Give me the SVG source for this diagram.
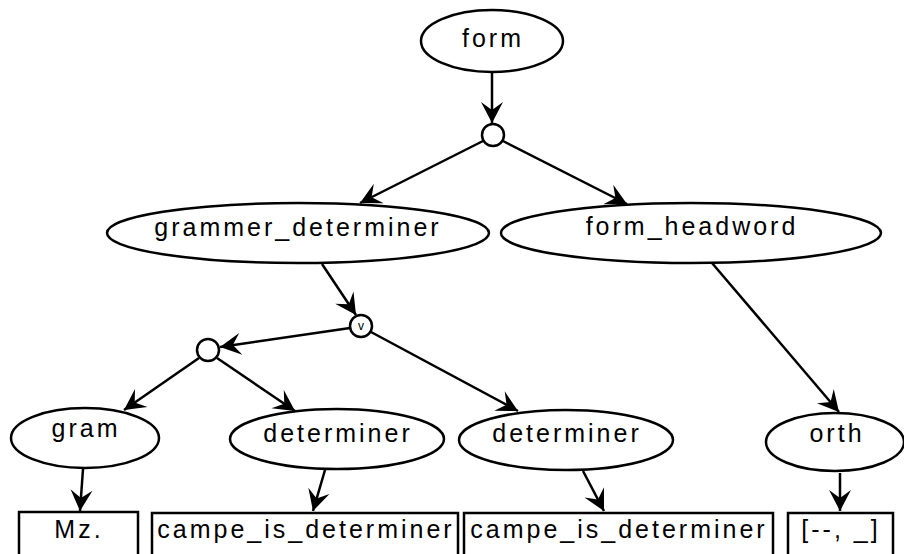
<svg xmlns="http://www.w3.org/2000/svg" width="904" height="554" viewBox="0 0 904 554">
<style>
.n{fill:#fff;stroke:#000;stroke-width:2.5}
.t{font-family:"Liberation Sans",Arial,sans-serif;font-size:25px;letter-spacing:3px;text-anchor:middle;fill:#000}
.e{stroke:#000;stroke-width:2.5;fill:none;marker-end:url(#ah)}
</style>
<defs>
<marker id="ah" markerUnits="userSpaceOnUse" markerWidth="24" markerHeight="24" viewBox="-22 -12 24 24" refX="0" refY="0" orient="auto">
<path d="M0,0 L-21,-11 L-13,0 L-21,11 Z" fill="#000"/>
</marker>
</defs>
<rect width="904" height="554" fill="#fff"/>
<g id="connectors">
<line class="e" x1="492" y1="72" x2="492" y2="123"/>
<line class="e" x1="483" y1="141" x2="360" y2="203"/>
<line class="e" x1="503" y1="141" x2="627" y2="204"/>
<line class="e" x1="322" y1="264" x2="356" y2="315"/>
<line class="e" x1="350" y1="328" x2="220" y2="347"/>
<line class="e" x1="371" y1="332" x2="518" y2="411"/>
<line class="e" x1="199" y1="358" x2="124" y2="410"/>
<line class="e" x1="217" y1="358" x2="295" y2="411"/>
<line class="e" x1="712" y1="263" x2="839" y2="412"/>
<line class="e" x1="83" y1="469" x2="80" y2="511"/>
<line class="e" x1="325" y1="470" x2="313" y2="511"/>
<line class="e" x1="583" y1="471" x2="604" y2="511"/>
<line class="e" x1="840" y1="473" x2="840" y2="511"/>
</g>
<g id="form"><ellipse class="n" cx="492" cy="41" rx="71" ry="31"/><text class="t" x="493" y="47">form</text></g>
<g id="and1"><circle class="n" cx="493" cy="135" r="11"/></g>
<g id="grammer_determiner"><ellipse class="n" cx="298" cy="233" rx="191" ry="30"/><text class="t" x="298" y="236">grammer_determiner</text></g>
<g id="form_headword"><ellipse class="n" cx="691" cy="233" rx="190" ry="30"/><text class="t" x="692" y="235">form_headword</text></g>
<g id="or1"><circle class="n" cx="361" cy="326" r="11"/><text x="361" y="330" style="font-family:'Liberation Sans',Arial,sans-serif;font-size:12px;text-anchor:middle">v</text></g>
<g id="and2"><circle class="n" cx="208" cy="350" r="11"/></g>
<g id="gram"><ellipse class="n" cx="85" cy="438" rx="74" ry="30"/><text class="t" x="86" y="437">gram</text></g>
<g id="determiner1"><ellipse class="n" cx="337" cy="439" rx="107" ry="30"/><text class="t" x="338" y="442">determiner</text></g>
<g id="determiner2"><ellipse class="n" cx="566" cy="440" rx="107" ry="30"/><text class="t" x="567" y="442">determiner</text></g>
<g id="orth"><ellipse class="n" cx="835" cy="442" rx="69" ry="29"/><text class="t" x="837" y="442">orth</text></g>
<g id="mz"><rect class="n" x="19" y="512" width="119" height="50"/><text class="t" x="79" y="538">Mz.</text></g>
<g id="campe1"><rect class="n" x="152" y="513" width="306" height="50"/><text class="t" x="306" y="538">campe_is_determiner</text></g>
<g id="campe2"><rect class="n" x="464" y="513" width="309" height="50"/><text class="t" x="619" y="538">campe_is_determiner</text></g>
<g id="orthval"><rect class="n" x="788" y="513" width="105" height="50"/><text class="t" x="841" y="538">[--, _]</text></g>
</svg>
